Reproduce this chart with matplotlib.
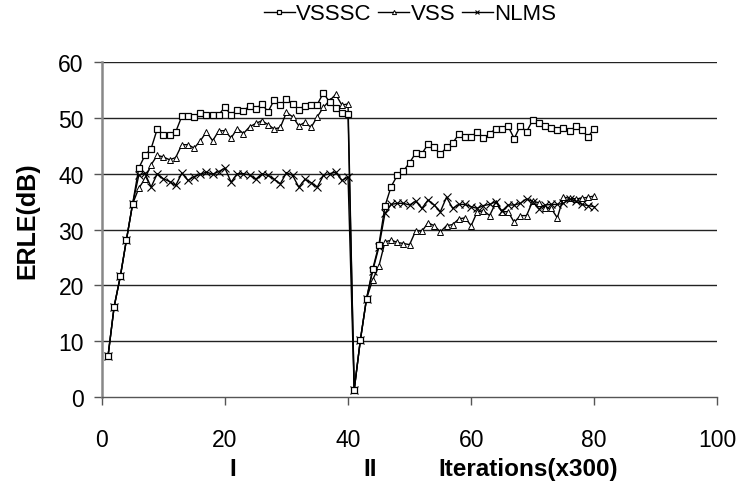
import matplotlib
matplotlib.use("Agg")
import matplotlib.pyplot as plt
import numpy as np

plt.rcParams['font.family'] = ['Liberation Sans', 'DejaVu Sans']

iterations = list(range(1, 81))

vsssc = [7.3, 16.2, 21.6, 28.2, 34.6, 41.0, 43.3, 44.5, 48.0, 47.0,
         47.0, 47.5, 50.3, 50.3, 50.2, 50.8, 50.5, 50.6, 50.6, 51.9,
         50.5, 51.5, 51.3, 52.1, 51.6, 52.5, 51.1, 53.2, 52.3, 53.3,
         52.5, 51.5, 52.2, 52.4, 52.4, 54.5, 52.8, 51.8, 50.8, 50.7,
         1.3, 10.2, 17.6, 22.9, 27.2, 34.2, 37.7, 39.7, 40.5, 42.0,
         43.7, 43.6, 45.3, 44.7, 43.5, 44.7, 45.5, 47.1, 46.6, 46.6,
         47.5, 46.4, 47.1, 48.1, 48.1, 48.5, 46.3, 48.6, 47.5, 49.6,
         49.0, 48.6, 48.2, 47.8, 48.2, 47.6, 48.5, 47.8, 46.6, 48.1]

vss = [7.3, 16.2, 21.6, 28.2, 34.6, 37.4, 39.1, 41.6, 43.3, 43.0,
       42.5, 42.9, 45.2, 45.2, 44.6, 45.9, 47.5, 45.9, 47.7, 47.7,
       46.4, 48.1, 47.2, 48.4, 49.0, 49.5, 48.8, 48.0, 48.3, 51.0,
       50.2, 48.6, 49.2, 48.3, 50.2, 51.9, 53.1, 54.2, 52.3, 52.5,
       1.3, 10.2, 17.6, 21.0, 23.4, 27.8, 28.1, 27.7, 27.5, 27.3,
       29.8, 29.7, 31.2, 30.7, 29.6, 30.7, 30.9, 31.9, 32.1, 30.7,
       33.2, 33.4, 32.5, 34.8, 33.2, 33.2, 31.3, 32.5, 32.5, 35.1,
       34.8, 33.9, 33.8, 32.1, 35.8, 35.6, 35.5, 35.6, 35.8, 36.0]

nlms = [7.3, 16.2, 21.6, 28.2, 34.6, 39.7, 40.1, 37.6, 40.0, 39.1,
        38.6, 37.9, 40.1, 38.8, 39.5, 39.9, 40.3, 39.9, 40.4, 41.0,
        38.5, 40.0, 40.0, 39.8, 39.0, 40.0, 39.7, 39.0, 38.2, 40.2,
        39.7, 37.6, 39.0, 38.4, 37.6, 39.7, 40.0, 40.3, 38.8, 39.4,
        1.3, 10.2, 17.6, 22.6, 26.8, 32.9, 34.5, 34.7, 34.7, 34.4,
        35.1, 33.8, 35.3, 34.4, 33.2, 35.8, 33.8, 34.5, 34.5, 34.1,
        33.8, 34.3, 34.5, 35.0, 33.3, 34.4, 34.4, 34.7, 35.5, 35.0,
        33.7, 34.4, 34.5, 34.5, 34.7, 35.5, 35.1, 34.5, 34.3, 34.1]

series_names = ["VSSSC", "VSS", "NLMS"]
x_ticks = [0, 20, 40, 60, 80, 100]
y_ticks = [0, 10, 20, 30, 40, 50, 60]

fig = plt.figure(figsize=(7.38, 4.89), dpi=100)
ax = fig.add_axes([0.138, 0.186, 0.834, 0.685])

ax.plot(iterations, vsssc, color='black', lw=1.0, marker='s', ms=5.0,
        mfc='white', mec='black', mew=0.9, label=series_names[0], zorder=3)
ax.plot(iterations, vss, color='black', lw=1.0, marker='^', ms=5.0,
        mfc='white', mec='black', mew=0.7, label=series_names[1], zorder=2)
ax.plot(iterations, nlms, color='black', lw=1.0, marker='x', ms=5.4,
        mec='black', mew=0.8, label=series_names[2], zorder=2)

ax.set_xlim(0, 100)
ax.set_ylim(0, 60)
ax.set_xticks(x_ticks)
ax.set_yticks(y_ticks)
ax.tick_params(axis='both', labelsize=16.5, direction='out', length=6,
               color='#555555', width=1)
ax.tick_params(axis='x', pad=16)
ax.tick_params(axis='y', pad=7)

for y in y_ticks[1:]:
    ax.axhline(y, color='#222222', lw=1.0, zorder=1)

ax.spines['top'].set_visible(False)
ax.spines['right'].set_visible(False)
ax.spines['left'].set_color('#888888')
ax.spines['left'].set_linewidth(1.8)
ax.spines['bottom'].set_color('#555555')
ax.spines['bottom'].set_linewidth(1.0)

fig.text(27 / 738, 1 - 221 / 489, "ERLE(dB)", fontsize=18, fontweight='bold',
         rotation=90, ha='center', va='center')

fig.text(233 / 738, 1 - 470 / 489, "I", fontsize=17.5, fontweight='bold',
         ha='center', va='center')
fig.text(370 / 738, 1 - 470 / 489, "II", fontsize=17.5, fontweight='bold',
         ha='center', va='center')
fig.text(528 / 738, 1 - 470 / 489, "Iterations(x300)", fontsize=17.5,
         fontweight='bold', ha='center', va='center')

fig.legend(loc='center', bbox_to_anchor=(410 / 738, 1 - 15 / 489), ncol=3,
           frameon=False, fontsize=16, handlelength=1.4, handletextpad=0.05,
           columnspacing=0.3, markerscale=0.6)

fig.savefig("out.png", dpi=100)
